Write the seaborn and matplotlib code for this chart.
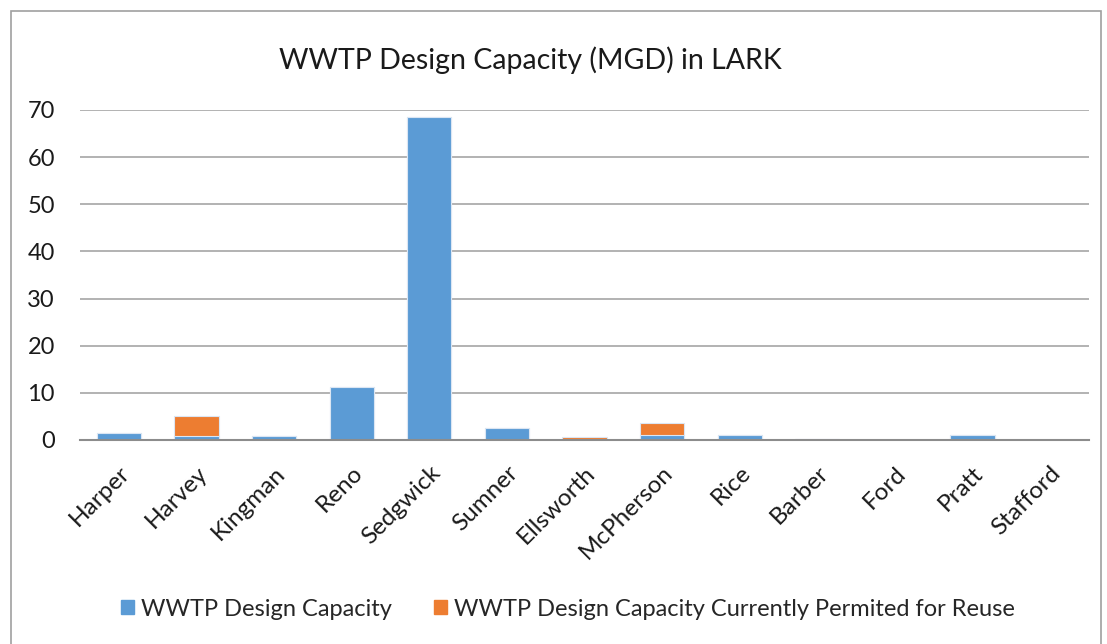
import matplotlib.pyplot as plt
import matplotlib.patches as mpatches
import pandas as pd
import seaborn as sns

# Values (MGD)
counties = ['Harper', 'Harvey', 'Kingman', 'Reno', 'Sedgwick', 'Sumner', 'Ellsworth',
            'McPherson', 'Rice', 'Barber', 'Ford', 'Pratt', 'Stafford']
design_capacity = [1.5, 0.8, 0.9, 11.2, 68.5, 2.5, 0.0, 1.0, 1.05, 0.3, 0.05, 1.0, 0.05]
permitted_reuse = [0.0, 4.3, 0.0, 0.0, 0.0, 0.0, 0.6, 2.6, 0.0, 0.0, 0.0, 0.0, 0.0]

blue = '#5B9BD5'
orange = '#ED7D31'

df = pd.DataFrame({'County': counties,
                   'Design': design_capacity,
                   'Reuse': permitted_reuse})
df['Total'] = df['Design'] + df['Reuse']

sns.set_theme(style='white')
plt.rcParams['font.family'] = ['Lato', 'DejaVu Sans']

fig = plt.figure(figsize=(11.07, 6.44), dpi=100)
ax = fig.add_axes([80 / 1107, 1 - 440 / 644, (1089 - 80) / 1107, 330 / 644])

# stacked bars: total (orange) first, then design capacity on top of it
sns.barplot(data=df, x='County', y='Total', color=orange, saturation=1, width=0.57,
            edgecolor='#dbe6f3', linewidth=0.8, ax=ax)
sns.barplot(data=df, x='County', y='Design', color=blue, saturation=1, width=0.57,
            edgecolor='#dbe6f3', linewidth=0.8, ax=ax)

ax.set_ylim(0, 70)
ax.set_yticks(range(0, 71, 10))
ax.set_xlim(-0.5, len(counties) - 0.5)
ax.yaxis.grid(True, color='#a6a6a6', linewidth=1.2)
ax.set_axisbelow(True)
for s in ['top', 'right', 'left']:
    ax.spines[s].set_visible(False)
ax.spines['bottom'].set_color('#8c8c8c')
ax.spines['bottom'].set_linewidth(1.5)
ax.set_xlabel('')
ax.set_ylabel('')
ax.tick_params(axis='y', labelsize=17, pad=18, length=0, labelcolor='#1a1a1a')
ax.tick_params(axis='x', labelsize=17.5, pad=16, length=0, labelcolor='#1a1a1a')
plt.setp(ax.get_xticklabels(), rotation=45, ha='right', rotation_mode='anchor')

fig.text(0.479, 1 - 60 / 644, 'WWTP Design Capacity (MGD) in LARK', ha='center', va='center',
         fontsize=20.5, color='#1a1a1a')

handles = [mpatches.Patch(color=blue, label='WWTP Design Capacity'),
           mpatches.Patch(color=orange, label='WWTP Design Capacity Currently Permited for Reuse')]
fig.legend(handles=handles, loc='center', bbox_to_anchor=(0.513, 1 - 609 / 644), ncol=2,
           frameon=False, fontsize=17, handlelength=0.55, handleheight=0.55,
           handletextpad=0.3, columnspacing=1.8)

# chart border
fig.patches.append(mpatches.Rectangle((11 / 1107, -0.05), 1090 / 1107, 1 - 11 / 644 + 0.05,
                                      transform=fig.transFigure, fill=False,
                                      edgecolor='#a0a0a0', linewidth=1.2))

fig.savefig('out.png', dpi=100)
